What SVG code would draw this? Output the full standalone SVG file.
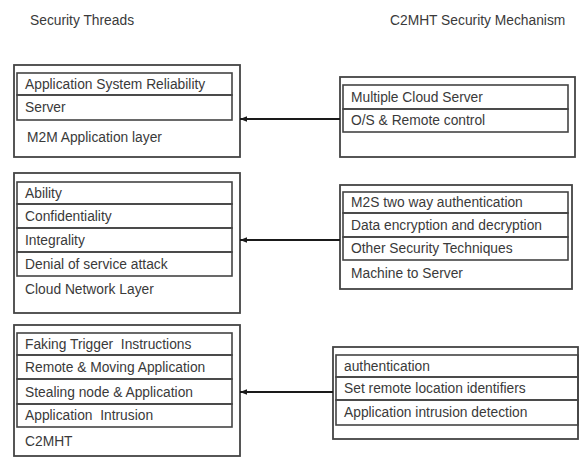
<svg xmlns="http://www.w3.org/2000/svg" width="579" height="457" viewBox="0 0 579 457">
<style>
.box{fill:none;stroke:#444;stroke-width:1.8}
.row{fill:none;stroke:#444;stroke-width:1.6}
text{font-family:"Liberation Sans",Arial,sans-serif;font-size:13.8px;fill:#3a3a3a;white-space:pre}
.conn{stroke:#1a1a1a;stroke-width:1.8;fill:none}
</style>
<defs>
<marker id="ah" viewBox="0 0 10 10" refX="10" refY="5" markerWidth="8" markerHeight="7" markerUnits="userSpaceOnUse" orient="auto">
<path d="M0,1 L10,5 L0,9 Z" fill="#1a1a1a"/>
</marker>
</defs>
<rect width="579" height="457" fill="#fff"/>
<text x="30" y="25">Security Threads</text>
<text x="390" y="25">C2MHT Security Mechanism</text>

<g id="threats-m2m">
<rect class="box" x="14" y="65" width="226" height="92"/>
<rect class="row" x="17" y="73" width="215" height="22"/>
<rect class="row" x="17" y="95" width="215" height="25"/>
<text x="25" y="89">Application System Reliability</text>
<text x="25" y="112">Server</text>
<text x="27" y="142">M2M Application layer</text>
</g>

<g id="mech-m2m">
<rect class="box" x="340" y="77" width="235" height="80"/>
<rect class="row" x="343" y="85" width="225" height="24"/>
<rect class="row" x="343" y="109" width="225" height="23"/>
<text x="351" y="102">Multiple Cloud Server</text>
<text x="351" y="125">O/S &amp; Remote control</text>
</g>

<g id="threats-cloud">
<rect class="box" x="14" y="173" width="226" height="140"/>
<rect class="row" x="17" y="182" width="215" height="22"/>
<rect class="row" x="17" y="204" width="215" height="24"/>
<rect class="row" x="17" y="228" width="215" height="24"/>
<rect class="row" x="17" y="252" width="215" height="24"/>
<text x="25" y="198">Ability</text>
<text x="25" y="221">Confidentiality</text>
<text x="25" y="245">Integrality</text>
<text x="25" y="269">Denial of service attack</text>
<text x="25" y="294">Cloud Network Layer</text>
</g>

<g id="mech-cloud">
<rect class="box" x="340" y="185" width="232" height="104"/>
<rect class="row" x="343" y="192" width="225" height="21"/>
<rect class="row" x="343" y="213" width="225" height="24"/>
<rect class="row" x="343" y="237" width="225" height="23"/>
<text x="351" y="207">M2S two way authentication</text>
<text x="351" y="230">Data encryption and decryption</text>
<text x="351" y="253">Other Security Techniques</text>
<text x="351" y="278">Machine to Server</text>
</g>

<g id="threats-c2mht">
<rect class="box" x="14" y="325" width="226" height="131"/>
<rect class="row" x="17" y="333" width="215" height="22"/>
<rect class="row" x="17" y="355" width="215" height="24"/>
<rect class="row" x="17" y="379" width="215" height="25"/>
<rect class="row" x="17" y="404" width="215" height="23"/>
<text x="25" y="349">Faking Trigger  Instructions</text>
<text x="25" y="372">Remote &amp; Moving Application</text>
<text x="25" y="397">Stealing node &amp; Application</text>
<text x="25" y="420">Application  Intrusion</text>
<text x="25" y="446">C2MHT</text>
</g>

<g id="mech-c2mht">
<rect class="box" x="333" y="347" width="245" height="92"/>
<rect class="row" x="336" y="355" width="242" height="22"/>
<rect class="row" x="336" y="377" width="242" height="23"/>
<rect class="row" x="336" y="400" width="242" height="25"/>
<text x="344" y="371">authentication</text>
<text x="344" y="393">Set remote location identifiers</text>
<text x="344" y="417">Application intrusion detection</text>
</g>

<g id="connectors">
<line class="conn" x1="340" y1="119" x2="240" y2="119" marker-end="url(#ah)"/>
<line class="conn" x1="340" y1="240" x2="240" y2="240" marker-end="url(#ah)"/>
<line class="conn" x1="333" y1="392" x2="240" y2="392" marker-end="url(#ah)"/>
</g>
</svg>
